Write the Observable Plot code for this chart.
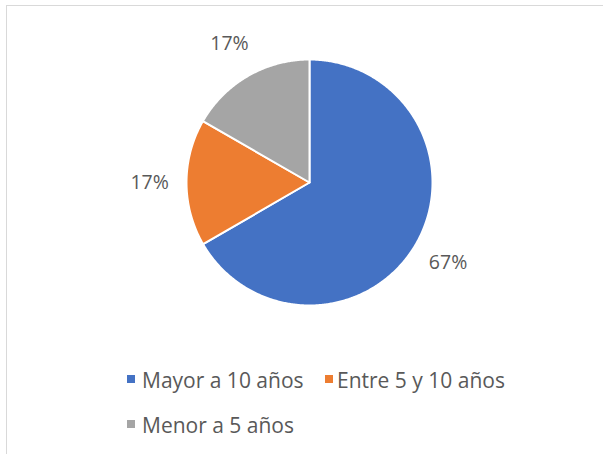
<!DOCTYPE html>
<html>
<head>
<meta charset="utf-8">
<script src="https://cdn.jsdelivr.net/npm/d3@7"></script>
<script src="https://cdn.jsdelivr.net/npm/@observablehq/plot@0.6"></script>
<style>
  html, body { margin: 0; padding: 0; background: #fff; }
  body { width: 603px; height: 454px; overflow: hidden; position: relative; font-family: "Open Sans", sans-serif; }
  #frame { position: absolute; left: 6px; top: 5px; width: 700px; height: 600px; border: 1px solid #d9d9d9; box-sizing: border-box; }
  #chart { position: absolute; left: 0; top: 0; }
  .item { position: absolute; font-size: 21px; color: #595959; white-space: nowrap; line-height: 28px; }
  .sw { position: absolute; width: 8px; height: 8px; }
</style>
</head>
<body>
<div id="frame"></div>
<div id="chart"></div>
<div id="legend"></div>
<script>
const categories = ["Mayor a 10 años", "Entre 5 y 10 años", "Menor a 5 años"];
const shares = [66.7, 16.7, 16.7];
const colors = ["#4472C4", "#ED7D31", "#A5A5A5"];

const rows = categories.map((c, i) => ({category: c, value: shares[i]}));
const arcs = d3.pie().sort(null).value(d => d.value)(rows);

// polygon points of each slice (unit radius, angle clockwise from 12 o'clock)
const slicePts = [];
arcs.forEach(a => {
  slicePts.push({category: a.data.category, x: 0, y: 0});
  const n = Math.max(2, Math.ceil((a.endAngle - a.startAngle) / (Math.PI / 360)));
  for (let k = 0; k <= n; k++) {
    const t = a.startAngle + (a.endAngle - a.startAngle) * k / n;
    slicePts.push({category: a.data.category, x: Math.sin(t), y: Math.cos(t)});
  }
});

const labelR = 1.3;
const labels = arcs.map(a => {
  const m = (a.startAngle + a.endAngle) / 2;
  return {category: a.data.category, x: labelR * Math.sin(m), y: labelR * Math.cos(m), text: Math.round(a.data.value) + "%"};
});

const W = 603, H = 360, CX = 309, CY = 182, R = 123;

const chart = Plot.plot({
  width: W,
  height: H,
  margin: 0,
  x: {domain: [-CX / R, (W - CX) / R], axis: null},
  y: {domain: [-(H - CY) / R, CY / R], axis: null},
  color: {domain: categories, range: colors},
  style: {background: "transparent", overflow: "visible"},
  marks: [
    Plot.line(slicePts, {x: "x", y: "y", z: "category", fill: "category", stroke: "white", strokeWidth: 2, strokeLinejoin: "round", curve: "linear-closed"}),
    Plot.text(labels, {x: "x", y: "y", text: "text", fill: "#595959", fontSize: 19.5, fontFamily: "Open Sans"})
  ]
});
document.getElementById("chart").appendChild(chart);

// legend
const legendPos = [{sx: 127, sy: 375, tx: 142, ty: 366}, {sx: 325, sy: 375, tx: 337, ty: 366}, {sx: 127, sy: 420, tx: 142, ty: 411}];
const lg = document.getElementById("legend");
categories.forEach((c, i) => {
  const p = legendPos[i];
  const sw = document.createElement("div");
  sw.className = "sw";
  sw.style.left = p.sx + "px"; sw.style.top = p.sy + "px"; sw.style.background = colors[i];
  lg.appendChild(sw);
  const t = document.createElement("div");
  t.className = "item";
  t.style.left = p.tx + "px"; t.style.top = p.ty + "px";
  t.textContent = c;
  lg.appendChild(t);
});
</script>
</body>
</html>
